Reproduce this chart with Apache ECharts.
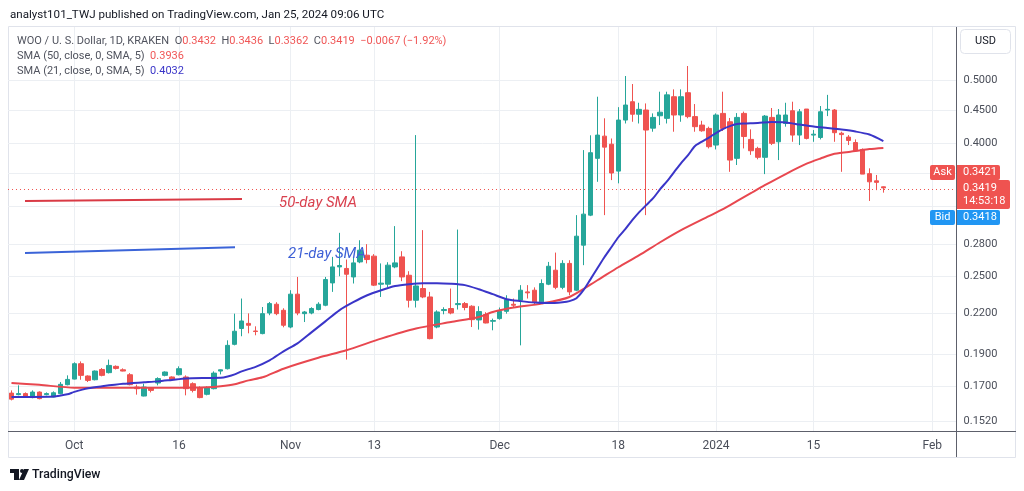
<!DOCTYPE html>
<html><head><meta charset="utf-8">
<script src="https://cdn.jsdelivr.net/npm/echarts@6/dist/echarts.min.js"></script>
<style>html,body{margin:0;padding:0;background:#fff}#c{width:1024px;height:491px}</style>
</head><body><div id="c"></div>
<script>
// ---- data ----
const firstDay = [2023, 8, 22];   // 22 Sep 2023 (UTC, month 0-based)
const dayCount = 136;             // axis runs to 4 Feb 2024
const categories = [];
for (let k = 0; k < dayCount; k++) {
  categories.push(new Date(Date.UTC(firstDay[0], firstDay[1], firstDay[2] + k)).toISOString().slice(0, 10));
}
const opens = [
0.1659,0.1650,0.1656,0.1633,0.1665,0.1650,0.1636,0.1656,0.1709,0.1743,
0.1840,0.1762,0.1739,0.1803,0.1783,0.1823,0.1801,0.1770,0.1695,0.1642,
0.1689,0.1719,0.1766,0.1756,0.1770,0.1756,0.1715,0.1691,0.1652,0.1685,
0.1793,0.1808,0.1970,0.2083,0.2121,0.2065,0.2046,0.2200,0.2269,0.2221,
0.2094,0.2351,0.2195,0.2200,0.2227,0.2261,0.2446,0.2588,0.2574,0.2498,
0.2634,0.2697,0.2688,0.2435,0.2435,0.2588,0.2681,0.2513,0.2301,0.2398,
0.2328,0.2094,0.2219,0.2235,0.2266,0.2274,0.2253,0.2147,0.2188,0.2137,
0.2157,0.2213,0.2269,0.2301,0.2370,0.2384,0.2288,0.2435,0.2558,0.2408,
0.2620,0.2384,0.2794,0.3106,0.3794,0.4103,0.3988,0.3627,0.4342,0.4632,
0.4432,0.4498,0.4220,0.4408,0.4368,0.4714,0.4420,0.4781,0.4395,0.4266,
0.4216,0.3976,0.4445,0.4316,0.3794,0.4445,0.4056,0.3929,0.3808,0.4383,
0.4022,0.4290,0.4487,0.4118,0.4514,0.4118,0.4083,0.4498,0.4498,0.4145,
0.4089,0.4011,0.3915,0.3595,0.3505,0.3432];
const highs = [
0.1675,0.1705,0.1663,0.1675,0.1669,0.1663,0.1669,0.1725,0.1766,0.1849,
0.1855,0.1766,0.1797,0.1812,0.1867,0.1829,0.1810,0.1780,0.1709,0.1715,
0.1693,0.1754,0.1791,0.1760,0.1823,0.1766,0.1723,0.1699,0.1699,0.1791,
0.1803,0.1998,0.2195,0.2315,0.2197,0.2099,0.2247,0.2287,0.2285,0.2237,
0.2384,0.2498,0.2216,0.2245,0.2285,0.2498,0.2681,0.2918,0.2656,0.2675,
0.2843,0.2804,0.2707,0.2620,0.2631,0.2988,0.2735,0.2549,0.4118,0.2946,
0.2370,0.2221,0.2245,0.2398,0.2952,0.2287,0.2261,0.2253,0.2206,0.2157,
0.2243,0.2342,0.2315,0.2427,0.2427,0.2408,0.2477,0.2634,0.2722,0.2650,
0.2650,0.3106,0.3906,0.4115,0.4714,0.4369,0.4069,0.4544,0.5071,0.4930,
0.4615,0.4604,0.4445,0.4798,0.4798,0.4838,0.4838,0.5253,0.4594,0.4331,
0.4242,0.4445,0.4798,0.4374,0.4450,0.4473,0.4202,0.3952,0.4420,0.4530,
0.4514,0.4615,0.4632,0.4514,0.4514,0.4192,0.4562,0.4745,0.4514,0.4167,
0.4118,0.4056,0.3929,0.3663,0.3578,0.3436];
const lows = [
0.1617,0.1646,0.1634,0.1629,0.1623,0.1646,0.1634,0.1652,0.1705,0.1741,
0.1739,0.1725,0.1735,0.1760,0.1778,0.1803,0.1791,0.1705,0.1650,0.1640,
0.1663,0.1705,0.1760,0.1735,0.1766,0.1646,0.1663,0.1629,0.1646,0.1681,
0.1772,0.1803,0.1963,0.2027,0.2048,0.2034,0.2041,0.2183,0.2183,0.2092,
0.2085,0.2183,0.2131,0.2190,0.2221,0.2253,0.2370,0.2504,0.1867,0.2441,
0.2622,0.2620,0.2419,0.2328,0.2410,0.2576,0.2461,0.2243,0.2243,0.2318,
0.2005,0.2085,0.2190,0.2190,0.2227,0.2221,0.2094,0.2075,0.2121,0.2070,
0.2149,0.2195,0.2247,0.1963,0.2315,0.2269,0.2277,0.2427,0.2392,0.2392,
0.2342,0.2376,0.2604,0.3095,0.3493,0.3106,0.3514,0.3474,0.4290,0.4316,
0.4290,0.3106,0.4167,0.4266,0.4290,0.4167,0.4316,0.4369,0.4167,0.4167,
0.3929,0.3915,0.4178,0.3618,0.3706,0.3929,0.3841,0.3781,0.3589,0.3976,
0.3771,0.4242,0.4022,0.3976,0.4056,0.4022,0.4056,0.4403,0.4022,0.3618,
0.3976,0.3884,0.3589,0.3265,0.3392,0.3362];
const closes = [
0.1624,0.1656,0.1636,0.1665,0.1627,0.1656,0.1661,0.1711,0.1741,0.1840,
0.1766,0.1735,0.1793,0.1766,0.1829,0.1810,0.1793,0.1709,0.1685,0.1695,
0.1675,0.1746,0.1787,0.1739,0.1808,0.1685,0.1675,0.1633,0.1691,0.1780,
0.1801,0.1963,0.2063,0.2139,0.2107,0.2061,0.2195,0.2274,0.2195,0.2107,
0.2351,0.2200,0.2208,0.2235,0.2269,0.2475,0.2588,0.2601,0.2522,0.2625,
0.2745,0.2656,0.2427,0.2444,0.2604,0.2625,0.2498,0.2301,0.2420,0.2328,
0.2010,0.2208,0.2227,0.2200,0.2274,0.2243,0.2149,0.2211,0.2124,0.2142,
0.2213,0.2306,0.2261,0.2384,0.2362,0.2288,0.2441,0.2594,0.2408,0.2620,
0.2370,0.2884,0.3117,0.3870,0.4118,0.3947,0.3603,0.4342,0.4578,0.4432,
0.4509,0.4192,0.4383,0.4464,0.4745,0.4420,0.4714,0.4395,0.4242,0.4181,
0.3953,0.4420,0.4216,0.3771,0.4383,0.4097,0.3897,0.3808,0.4403,0.4000,
0.4420,0.4420,0.4118,0.4471,0.4070,0.4131,0.4471,0.4509,0.4153,0.4125,
0.4041,0.3897,0.3589,0.3493,0.3486,0.3419];
// SMA readings (null = not read on that day; the line is joined across them)
const sma21 = [
0.1637,null,null,0.1637,null,null,0.1639,null,0.1652,0.1666,
null,0.1687,null,0.1699,null,null,0.1714,null,null,0.1723,
null,0.1729,null,0.1738,null,0.1747,null,null,0.1750,null,
0.1751,0.1759,0.1772,0.1791,null,0.1820,null,0.1862,null,0.1922,
null,0.1977,null,0.2055,null,0.2136,null,0.2221,null,0.2285,
null,0.2342,null,0.2384,null,0.2419,null,0.2435,null,0.2444,
null,0.2444,null,0.2439,null,0.2427,null,0.2392,null,0.2351,
null,0.2310,null,0.2294,null,0.2282,null,0.2278,null,0.2285,
0.2294,0.2318,0.2384,0.2477,0.2576,0.2678,0.2774,0.2873,0.2956,0.3051,
0.3139,0.3217,0.3297,0.3404,0.3502,0.3614,0.3731,0.3837,0.3962,0.4025,
0.4082,0.4148,0.4207,0.4251,0.4281,0.4289,null,0.4297,null,0.4312,
null,0.4305,null,0.4274,null,0.4244,null,0.4222,null,0.4199,
null,0.4170,null,0.4126,null,0.4032];
const sma50 = [
0.1719,null,null,null,0.1708,null,null,null,null,0.1691,
null,null,null,null,0.1691,null,null,null,null,0.1691,
null,null,null,null,0.1691,null,null,null,0.1693,null,
0.1699,null,0.1711,null,0.1735,null,0.1754,null,null,0.1808,
null,null,null,null,0.1879,null,null,null,0.1929,null,
null,null,null,0.2010,null,null,null,null,0.2083,null,
null,null,null,0.2131,null,null,null,0.2169,null,0.2208,
null,null,0.2243,null,null,null,0.2274,null,null,null,
0.2328,null,null,null,0.2469,null,null,0.2585,null,null,
0.2697,null,null,0.2823,null,null,0.2946,null,null,null,
0.3095,null,0.3172,null,0.3263,null,0.3356,null,0.3451,null,
null,0.3590,null,null,0.3723,null,0.3792,null,0.3855,null,
null,0.3892,null,0.3920,null,0.3936];
const yTicks = [0.152, 0.17, 0.19, 0.22, 0.25, 0.28, 0.32, 0.36, 0.40, 0.45, 0.50];
const hiddenTickLabels = [0.32, 0.36];
const xTickDates = ['2023-10-01','2023-10-16','2023-11-01','2023-11-13','2023-12-01','2023-12-18','2024-01-01','2024-01-15','2024-02-01'];
const xTickLabels = ['Oct','16','Nov','13','Dec','18','2024','15','Feb'];
const lastPrice = 0.3419;
const askPrice = '0.3421', bidPrice = '0.3418', countdown = '14:53:18';
const ohlcText = {o:'0.3432', h:'0.3436', l:'0.3362', c:'0.3419', chg:'−0.0067 (−1.92%)'};
const sma50Last = '0.3936', sma21Last = '0.4032';

// ---- chart ----
const UP = '#26a69a', DOWN = '#ef5350';
const FONT = 'Roboto, "Liberation Sans", sans-serif';
const labelMap = {};
xTickDates.forEach((d, i) => labelMap[d] = xTickLabels[i]);

const chart = echarts.init(document.getElementById('c'), null, {renderer: 'canvas'});
const candleData = opens.map((o, i) => [o, closes[i], lows[i], highs[i]]);

const option = {
  animation: false,
  backgroundColor: '#ffffff',
  grid: {left: 8, right: 67.4, top: 27, bottom: 60},
  xAxis: {
    type: 'category', data: categories, boundaryGap: true,
    axisLine: {show: false}, axisTick: {show: false}, splitLine: {show: false},
    axisLabel: {
      interval: (idx, val) => labelMap[val] !== undefined,
      formatter: v => labelMap[v] || '',
      color: '#4a4e59', fontSize: 12, fontFamily: FONT, margin: 9
    }
  },
  yAxis: {
    type: 'log', logBase: 10, min: 0.14516, max: 0.6027,
    axisLine: {show: false}, axisTick: {show: false}, axisLabel: {show: false}, splitLine: {show: false}
  },
  series: [
    {
      name: 'grid', type: 'line', data: [], silent: true,
      markLine: {
        silent: true, symbol: 'none', z: 1, animation: false,
        lineStyle: {color: '#eceff3', width: 1, type: 'solid'},
        label: {show: false},
        data: [
          ...yTicks.map(v => ({
            yAxis: v,
            label: {
              show: hiddenTickLabels.indexOf(v) < 0, position: 'end', distance: 7,
              formatter: () => v.toFixed(4), color: '#4a4e59', fontSize: 11, fontFamily: FONT
            }
          })),
          ...xTickDates.map(d => ({xAxis: d}))
        ]
      }
    },
    {
      name: 'WOO', type: 'candlestick', data: candleData, barWidth: 5, z: 3,
      itemStyle: {color: UP, color0: DOWN, borderColor: UP, borderColor0: DOWN, borderWidth: 1},
      markLine: {
        silent: true, symbol: 'none', z: 2, animation: false,
        lineStyle: {color: DOWN, width: 1, type: [1, 3]},
        label: {show: false},
        data: [{yAxis: lastPrice}]
      }
    },
    {
      name: 'SMA 50', type: 'line', data: sma50, connectNulls: true, smooth: 0.25,
      showSymbol: false, symbol: 'none', z: 4,
      lineStyle: {color: '#e8474f', width: 2}
    },
    {
      name: 'SMA 21', type: 'line', data: sma21, connectNulls: true, smooth: 0.25,
      showSymbol: false, symbol: 'none', z: 4,
      lineStyle: {color: '#3a35c8', width: 2}
    }
  ],
  graphic: [
    // panel frame and axes separators
    {type: 'rect', silent: true, z: 0, shape: {x: 8.5, y: 26.5, width: 1007, height: 431},
      style: {fill: 'none', stroke: '#e0e3eb', lineWidth: 1}},
    {type: 'line', silent: true, z: 10, shape: {x1: 8, y1: 431.5, x2: 1016, y2: 431.5},
      style: {stroke: '#5d606b', lineWidth: 1}},
    {type: 'line', silent: true, z: 10, shape: {x1: 956.5, y1: 27, x2: 956.5, y2: 457},
      style: {stroke: '#5d606b', lineWidth: 1}},
    // header
    {type: 'text', silent: true, z: 10, style: {x: 10, y: 15, text: 'analyst101_TWJ published on TradingView.com, Jan 25, 2024 09:06 UTC',
      fill: '#131722', font: '11.6px ' + FONT, verticalAlign: 'middle'}},
    // legend lines
    {type: 'text', silent: true, z: 10, style: {x: 17, y: 41, verticalAlign: 'middle',
      text: '{g|WOO / U. S. Dollar, 1D, KRAKEN  O}{r|' + ohlcText.o + '}{g|  H}{r|' + ohlcText.h + '}{g|  L}{r|' + ohlcText.l + '}{g|  C}{r|' + ohlcText.c + '}{r|  ' + ohlcText.chg + '}',
      rich: {g: {fill: '#50535e', font: '11px ' + FONT}, r: {fill: '#f05656', font: '11px ' + FONT}}}},
    {type: 'text', silent: true, z: 10, style: {x: 17, y: 56, verticalAlign: 'middle',
      text: '{g|SMA (50, close, 0, SMA, 5)  }{r|' + sma50Last + '}',
      rich: {g: {fill: '#50535e', font: '11px ' + FONT}, r: {fill: '#f05656', font: '11px ' + FONT}}}},
    {type: 'text', silent: true, z: 10, style: {x: 17, y: 71, verticalAlign: 'middle',
      text: '{g|SMA (21, close, 0, SMA, 5)  }{b|' + sma21Last + '}',
      rich: {g: {fill: '#50535e', font: '11px ' + FONT}, b: {fill: '#3a35c8', font: '11px ' + FONT}}}},
    // currency box
    {type: 'rect', silent: true, z: 10, shape: {x: 960.5, y: 29.5, width: 50, height: 24, r: 4},
      style: {fill: '#fff', stroke: '#e0e3eb', lineWidth: 1}},
    {type: 'text', silent: true, z: 11, style: {x: 985.5, y: 41.5, text: 'USD', align: 'center', verticalAlign: 'middle',
      fill: '#131722', font: '11px ' + FONT}},
    // drawn annotations
    {type: 'line', silent: true, z: 10, shape: {x1: 25, y1: 201, x2: 242, y2: 199},
      style: {stroke: '#d93a45', lineWidth: 2}},
    {type: 'text', silent: true, z: 10, style: {x: 279, y: 203.5, text: '50-day SMA', verticalAlign: 'middle',
      fill: '#d9414f', font: 'italic 15px ' + FONT}},
    {type: 'line', silent: true, z: 10, shape: {x1: 25, y1: 253, x2: 235, y2: 247.3},
      style: {stroke: '#3b64d8', lineWidth: 2}},
    {type: 'text', silent: true, z: 10, style: {x: 288, y: 254.5, text: '21-day SMA', verticalAlign: 'middle',
      fill: '#3d5fd6', font: 'italic 15px ' + FONT}},
    // price labels
    {type: 'rect', silent: true, z: 12, shape: {x: 930, y: 165, width: 25, height: 15, r: 2}, style: {fill: DOWN}},
    {type: 'text', silent: true, z: 13, style: {x: 942.5, y: 172.5, text: 'Ask', align: 'center', verticalAlign: 'middle', fill: '#fff', font: '11px ' + FONT}},
    {type: 'rect', silent: true, z: 12, shape: {x: 957, y: 165, width: 43, height: 15, r: [0, 2, 2, 0]}, style: {fill: DOWN}},
    {type: 'text', silent: true, z: 13, style: {x: 963, y: 172.5, text: askPrice, verticalAlign: 'middle', fill: '#fff', font: '11px ' + FONT}},
    {type: 'rect', silent: true, z: 12, shape: {x: 957, y: 180, width: 53, height: 29, r: [0, 2, 2, 0]}, style: {fill: DOWN}},
    {type: 'text', silent: true, z: 13, style: {x: 963, y: 188, text: lastPrice.toFixed(4), verticalAlign: 'middle', fill: '#fff', font: '11px ' + FONT}},
    {type: 'text', silent: true, z: 13, style: {x: 963, y: 201, text: countdown, verticalAlign: 'middle', fill: '#fff', font: '11px ' + FONT}},
    {type: 'rect', silent: true, z: 12, shape: {x: 930, y: 210, width: 25, height: 15, r: 2}, style: {fill: '#2196f3'}},
    {type: 'text', silent: true, z: 13, style: {x: 942.5, y: 217.5, text: 'Bid', align: 'center', verticalAlign: 'middle', fill: '#fff', font: '11px ' + FONT}},
    {type: 'rect', silent: true, z: 12, shape: {x: 957, y: 210, width: 43, height: 15, r: [0, 2, 2, 0]}, style: {fill: '#2196f3'}},
    {type: 'text', silent: true, z: 13, style: {x: 963, y: 217.5, text: bidPrice, verticalAlign: 'middle', fill: '#fff', font: '11px ' + FONT}},
    // TradingView logo
    {type: 'rect', silent: true, z: 10, shape: {x: 10, y: 469, width: 9, height: 4}, style: {fill: '#131722'}},
    {type: 'rect', silent: true, z: 10, shape: {x: 14, y: 469, width: 5, height: 11}, style: {fill: '#131722'}},
    {type: 'circle', silent: true, z: 10, shape: {cx: 22, cy: 471, r: 2}, style: {fill: '#131722'}},
    {type: 'polygon', silent: true, z: 10, shape: {points: [[24, 469], [29, 469], [24, 480], [19, 480]]}, style: {fill: '#131722'}},
    {type: 'text', silent: true, z: 10, style: {x: 32, y: 474.5, text: 'TradingView', verticalAlign: 'middle', fill: '#131722', font: '500 12.3px ' + FONT}}
  ]
};
chart.setOption(option);
</script>
</body></html>
